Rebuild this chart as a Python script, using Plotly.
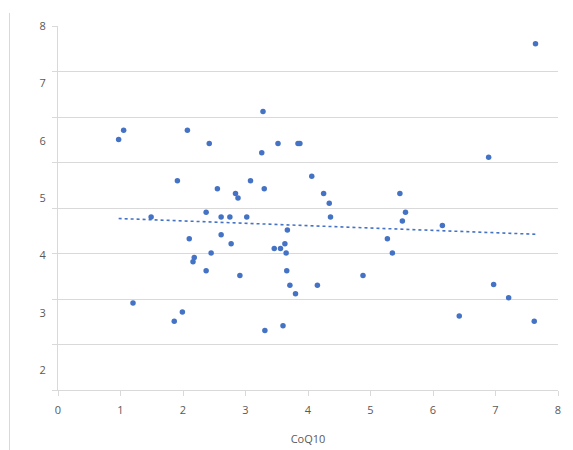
import numpy as np
import plotly.graph_objects as go

# CoQ10 (x) and response (y) values
coq10 = [0.97, 1.05, 2.07, 2.42, 1.91, 2.55, 2.84, 2.88, 3.08, 1.49,
         2.37, 2.61, 2.75, 3.02, 2.10, 2.61, 2.77, 2.45, 2.18, 2.16,
         2.37, 2.91, 1.20, 1.99, 1.86, 3.28, 3.26, 3.52, 3.84, 3.87,
         3.30, 4.06, 4.25, 4.34, 5.47, 4.36, 3.67, 5.27, 3.63, 3.46,
         3.56, 3.65, 3.66, 3.71, 3.80, 4.15, 4.88, 5.35, 3.31, 3.60,
         7.64, 6.89, 5.56, 5.51, 6.15, 6.97, 7.21, 6.42, 7.62]
values = [6.02, 6.18, 6.18, 5.95, 5.30, 5.16, 5.08, 5.00, 5.30, 4.67,
          4.75, 4.67, 4.67, 4.67, 4.29, 4.36, 4.20, 4.04, 3.96, 3.89,
          3.73, 3.65, 3.17, 3.01, 2.85, 6.51, 5.79, 5.95, 5.95, 5.95,
          5.16, 5.38, 5.08, 4.91, 5.08, 4.67, 4.44, 4.29, 4.20, 4.12,
          4.12, 4.04, 3.73, 3.48, 3.33, 3.48, 3.65, 4.04, 2.69, 2.77,
          7.69, 5.71, 4.75, 4.60, 4.52, 3.49, 3.26, 2.94, 2.85]

x_ticks = [0, 1, 2, 3, 4, 5, 6, 7, 8]
y_ticks = [2, 3, 4, 5, 6, 7, 8]
x_title = "CoQ10"

# linear trendline fitted to the data
slope, intercept = np.polyfit(coq10, values, 1)
tx = [min(coq10), max(coq10)]
ty = [slope * v + intercept for v in tx]

blue = "#4472C4"
grey_text = "#595959"
grid = "#d9d9d9"

fig = go.Figure()
fig.add_trace(go.Scatter(x=tx, y=ty, mode="lines",
                         line=dict(color=blue, width=1.6, dash="dot"),
                         hoverinfo="skip", showlegend=False))
fig.add_trace(go.Scatter(x=coq10, y=values, mode="markers",
                         marker=dict(color=blue, size=5.5),
                         showlegend=False))
# carrier trace for the gridline axis
fig.add_trace(go.Scatter(x=[None], y=[None], yaxis="y2", showlegend=False,
                         hoverinfo="skip"))

fig.update_layout(
    width=565, height=442,
    margin=dict(l=50, r=15, t=18, b=60),
    paper_bgcolor="white", plot_bgcolor="white",
    font=dict(family="Open Sans", size=11, color=grey_text),
    xaxis=dict(range=[0, 8], tickvals=x_ticks, showgrid=False,
               zeroline=False, showline=True, linecolor=grid, linewidth=1,
               ticks="outside", ticklen=5, tickcolor=grid,
               automargin=False,
               title=dict(text=x_title, standoff=19,
                          font=dict(size=11, color=grey_text)),
               ticklabelstandoff=5),
    yaxis=dict(range=[1.651, 8], tickvals=y_ticks, showgrid=False,
               zeroline=False, showline=True, linecolor=grid, linewidth=1,
               ticks="", ticklabelstandoff=9, automargin=False),
    yaxis2=dict(range=[0, 8], dtick=1, overlaying="y", side="left",
                showgrid=True, gridcolor=grid, gridwidth=1,
                showticklabels=False, ticks="outside", ticklen=5,
                tickcolor=grid, zeroline=False, showline=False,
                automargin=False),
    shapes=[dict(type="line", xref="paper", yref="paper",
                 x0=-0.097, x1=-0.097, y0=1.036, y1=-0.2,
                 line=dict(color=grid, width=1))],
)

fig.write_html("out.html")
